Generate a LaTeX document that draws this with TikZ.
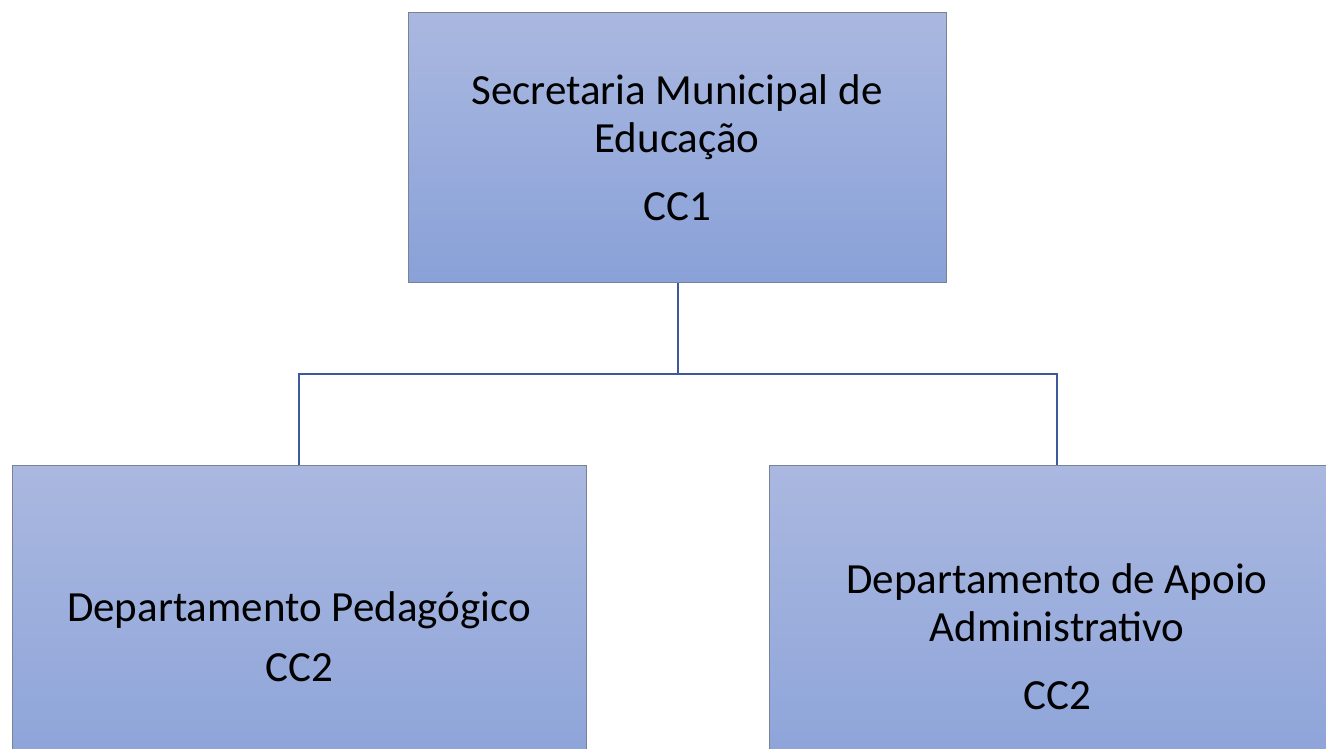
\documentclass[tikz,border=0pt]{standalone}
\usepackage{fontspec}
\setmainfont{Carlito}
\definecolor{boxtop}{HTML}{AAB8E0}
\definecolor{boxbot}{HTML}{89A1D8}
\definecolor{boxline}{HTML}{7A8296}
\definecolor{connline}{HTML}{3C5A9A}
\tikzset{
  orgbox/.style={rectangle, draw=boxline, line width=1pt, top color=boxtop, bottom color=boxbot,
    align=center, inner sep=0pt, font=\fontsize{43}{48}\selectfont, text=black},
  conn/.style={draw=connline, line width=2.5pt}
}
\begin{document}
\begin{tikzpicture}[x=1pt,y=1pt]
\useasboundingbox (0,0) rectangle (1326,748);
\clip (0,0) rectangle (1326,748);
\fill[white] (0,0) rectangle (1326,748);
\node[orgbox, minimum width=538pt, minimum height=270pt] (top) at (677,600)
  {Secretaria Municipal de\\Educação\\[20pt]CC1};
\node[orgbox, minimum width=574pt, minimum height=342pt] (left) at (299,111)
  {Departamento Pedagógico\\[12pt]CC2};
\node[orgbox, minimum width=576pt, minimum height=342pt] (right) at (1057,111)
  {Departamento de Apoio\\Administrativo\\[20pt]CC2};
\coordinate (j) at (678,374);
\draw[conn] (top.south -| j) -- (j);
\draw[conn] (left.north) |- (j) -| (right.north);
\end{tikzpicture}
\end{document}
